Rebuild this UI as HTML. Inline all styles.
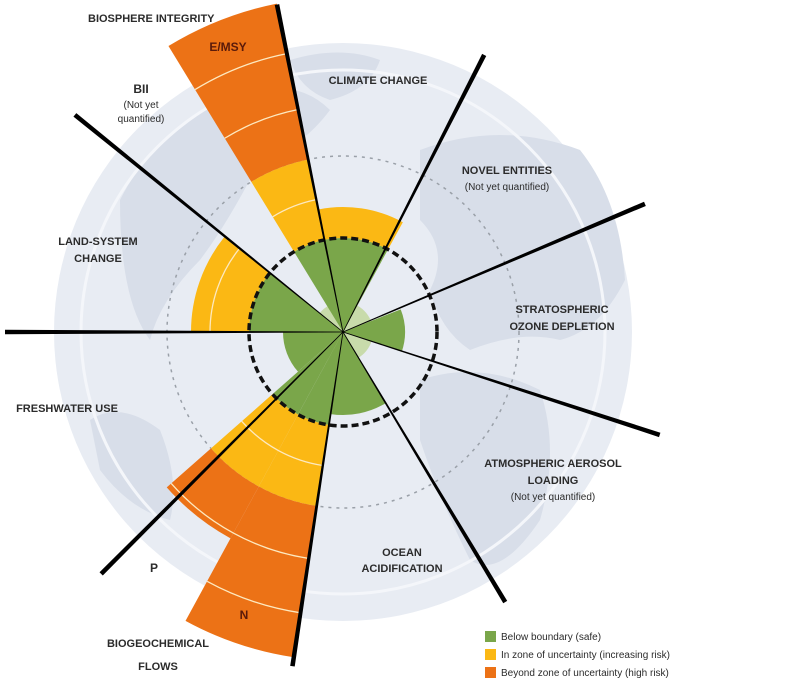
<!DOCTYPE html>
<html><head><meta charset="utf-8"><style>
html,body{margin:0;padding:0;background:#fff}
svg{display:block}
text{font-family:"Liberation Sans",sans-serif;fill:#2b2b2b}
.b{font-weight:bold;font-size:11px}
.s{font-size:10px}
</style></head><body>
<svg id="s" width="800" height="689" viewBox="0 0 800 689" xmlns="http://www.w3.org/2000/svg">
<circle cx="343" cy="332" r="289" fill="#e8ecf3"/>
<g fill="#d8dee9">
<path d="M120 200 Q160 120 250 90 Q300 80 330 110 Q300 150 260 160 Q230 220 200 260 Q160 300 150 340 Q120 300 120 200Z"/>
<path d="M290 60 Q340 45 380 60 Q370 90 330 100 Q300 90 290 60Z"/>
<path d="M420 150 Q500 120 580 150 Q620 200 625 280 Q600 330 560 340 Q520 330 470 350 Q440 330 430 290 Q450 250 420 220Z"/>
<path d="M420 380 Q480 360 540 390 Q560 450 540 520 Q500 580 470 560 Q440 500 420 440Z"/>
<path d="M90 420 Q120 400 160 430 Q180 480 170 520 Q130 510 100 470Z"/>
</g>
<circle cx="343" cy="332" r="262" fill="none" stroke="#f4f6fa" stroke-width="3"/>
<circle cx="343" cy="332" r="176" fill="none" stroke="#9aa0a8" stroke-width="1.5" stroke-dasharray="3 5"/>
<g id="w"></g>
<circle cx="343" cy="332" r="94" fill="none" stroke="#111" stroke-width="3.5" stroke-dasharray="7 4"/>
<g id="l"></g>
<text class="b" x="88" y="22">BIOSPHERE INTEGRITY</text>
<text class="b" x="228" y="51" text-anchor="middle" style="font-size:12px;fill:#5a1a0a">E/MSY</text>
<text class="b" x="141" y="93" text-anchor="middle" style="font-size:12px">BII</text>
<text class="s" x="141" y="108" text-anchor="middle">(Not yet</text>
<text class="s" x="141" y="122" text-anchor="middle">quantified)</text>
<text class="b" x="378" y="84" text-anchor="middle">CLIMATE CHANGE</text>
<text class="b" x="507" y="174" text-anchor="middle">NOVEL ENTITIES</text>
<text class="s" x="507" y="190" text-anchor="middle">(Not yet quantified)</text>
<text class="b" x="98" y="245" text-anchor="middle">LAND-SYSTEM</text>
<text class="b" x="98" y="262" text-anchor="middle">CHANGE</text>
<text class="b" x="562" y="313" text-anchor="middle">STRATOSPHERIC</text>
<text class="b" x="562" y="330" text-anchor="middle">OZONE DEPLETION</text>
<text class="b" x="67" y="412" text-anchor="middle">FRESHWATER USE</text>
<text class="b" x="553" y="467" text-anchor="middle">ATMOSPHERIC AEROSOL</text>
<text class="b" x="553" y="484" text-anchor="middle">LOADING</text>
<text class="s" x="553" y="500" text-anchor="middle">(Not yet quantified)</text>
<text class="b" x="402" y="556" text-anchor="middle">OCEAN</text>
<text class="b" x="402" y="572" text-anchor="middle">ACIDIFICATION</text>
<text class="b" x="154" y="572" text-anchor="middle" style="font-size:12px">P</text>
<text class="b" x="244" y="619" text-anchor="middle" style="font-size:12px;fill:#5a1a0a">N</text>
<text class="b" x="158" y="647" text-anchor="middle">BIOGEOCHEMICAL</text>
<text class="b" x="158" y="670" text-anchor="middle">FLOWS</text>
<rect x="485" y="631" width="11" height="11" fill="#7aa64a"/>
<rect x="485" y="649" width="11" height="11" fill="#fbb814"/>
<rect x="485" y="667" width="11" height="11" fill="#ec7216"/>
<text class="s" x="501" y="640">Below boundary (safe)</text>
<text class="s" x="501" y="658">In zone of uncertainty (increasing risk)</text>
<text class="s" x="501" y="676">Beyond zone of uncertainty (high risk)</text>
</svg>
<script>
var cx=343,cy=332,NS="http://www.w3.org/2000/svg";
function P(r,a){a=a*Math.PI/180;return [cx+r*Math.sin(a),cy-r*Math.cos(a)];}
function wedge(r0,r1,a0,a1,fill){
 var p1=P(r1,a0),p2=P(r1,a1),d;
 if(r0<=0){d="M"+cx+" "+cy+"L"+p1+"A"+r1+" "+r1+" 0 0 1 "+p2+"Z";}
 else{var q1=P(r0,a1),q2=P(r0,a0);d="M"+q2+"L"+p1+"A"+r1+" "+r1+" 0 0 1 "+p2+"L"+q1+"A"+r0+" "+r0+" 0 0 0 "+q2+"Z";}
 var e=document.createElementNS(NS,"path");e.setAttribute("d",d);e.setAttribute("fill",fill);document.getElementById("w").appendChild(e);}
function arc(r,a0,a1){var p1=P(r,a0),p2=P(r,a1);var e=document.createElementNS(NS,"path");
 e.setAttribute("d","M"+p1+"A"+r+" "+r+" 0 0 1 "+p2);e.setAttribute("fill","none");e.setAttribute("stroke","#fde9c0");e.setAttribute("stroke-width","1.3");document.getElementById("w").appendChild(e);}
var G="#7aa64a",Y="#fbb814",O="#ec7216";
var c=document.createElementNS(NS,"circle");c.setAttribute("cx",cx);c.setAttribute("cy",cy);c.setAttribute("r",30);c.setAttribute("fill","#c8dbab");document.getElementById("w").appendChild(c);
var b=-11.4;
wedge(0,94,b,b+40,G);wedge(94,125,b,b+40,Y);
wedge(0,62,b+80,b+120,G);
wedge(0,83,b+160,b+200,G);
wedge(0,94,b+200,b+220,G);wedge(94,176,b+200,b+220,Y);wedge(176,329,b+200,b+220,O);
wedge(0,94,b+220,b+240,G);wedge(94,176,b+220,b+240,Y);wedge(176,235,b+220,b+240,O);
arc(135,b+200,b+240);arc(229,b+200,b+240);arc(284,b+200,b+220);
wedge(0,60,b+240,b+281.4,G);
wedge(0,94,b+281.4,b+320,G);wedge(94,152,b+281.4,b+320,Y);arc(133,b+281.4,b+320);
wedge(0,94,b+340,b+360,G);wedge(94,176,b+340,b+360,Y);wedge(176,335,b+340,b+360,O);
arc(135,b+340,b+360);arc(227,b+340,b+360);arc(284,b+340,b+360);
var L=[[b,334],[27,311],[67,328],[108,333],[149,315],[188.6,338],[225,342],[270,338],[309,345]];
L.forEach(function(x){var a=x[0],r=x[1],ar=a*Math.PI/180,nx=Math.cos(ar),ny=Math.sin(ar);
 var e1=P(r,a),w0=0.4,w1=2.3;
 var pts=[[cx+nx*w0,cy+ny*w0],[e1[0]+nx*w1,e1[1]+ny*w1],[e1[0]-nx*w1,e1[1]-ny*w1],[cx-nx*w0,cy-ny*w0]];
 var e=document.createElementNS(NS,"polygon");e.setAttribute("points",pts.map(function(p){return p.join(",")}).join(" "));e.setAttribute("fill","#000");document.getElementById("l").appendChild(e);});
</script>
</body></html>
